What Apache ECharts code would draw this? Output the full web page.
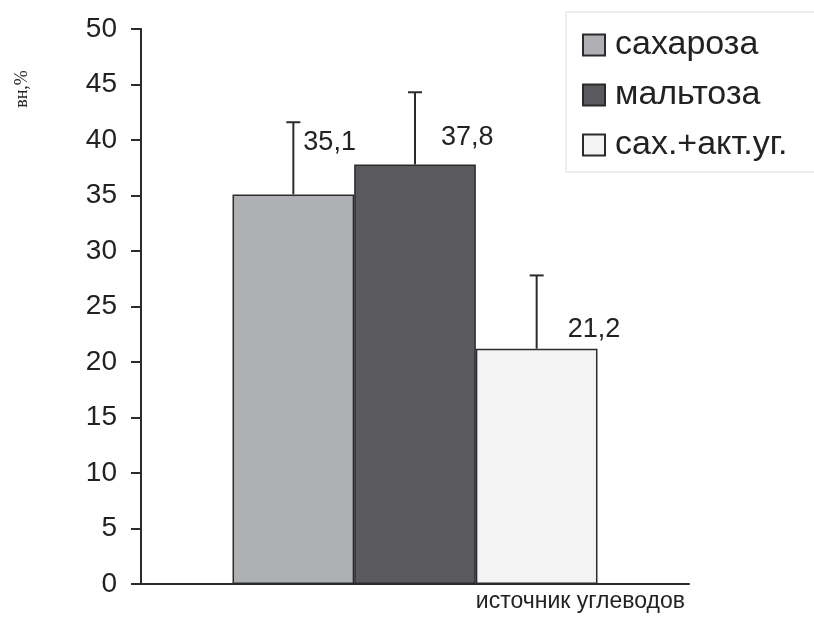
<!DOCTYPE html>
<html>
<head>
<meta charset="utf-8">
<script src="https://cdn.jsdelivr.net/npm/echarts@6/dist/echarts.min.js"></script>
<style>
  html, body { margin: 0; padding: 0; background: #fff; }
  #chart { width: 814px; height: 620px; }
</style>
</head>
<body>
<div id="chart"></div>
<script>
// Carbohydrate source vs. response, mean with upper error whisker
const seriesNames = ['сахароза', 'мальтоза', 'сах.+акт.уг.'];
const means = [35.1, 37.8, 21.2];
const errors = [6.5, 6.5, 6.6];
const yTicks = [0, 5, 10, 15, 20, 25, 30, 35, 40, 45, 50];
const xTitle = 'источник углеводов';
const yTitle = 'вн,%';

const fills = ['#aeb0b3', '#5a595e', '#f3f3f3'];
const edge = '#2b2b2b';
const font = 'Liberation Sans, Arial, sans-serif';
const gapPct = 33.4;
// value-label placement next to each whisker: [dx from bar centre, dy above bar top]
const labelPlace = [[10, 52], [26, 27], [31, 19]];

const chart = echarts.init(document.getElementById('chart'), null, { renderer: 'canvas' });

const barSeries = seriesNames.map((name, i) => ({
  name: name,
  type: 'bar',
  data: [means[i]],
  barGap: '0%',
  barCategoryGap: gapPct + '%',
  itemStyle: { color: fills[i], borderColor: edge, borderWidth: 1.5 },
  emphasis: { disabled: true },
  z: 2
}));

const whiskerSeries = seriesNames.map((name, i) => ({
  name: name,
  type: 'custom',
  data: [[0, means[i], errors[i]]],
  z: 3,
  silent: true,
  renderItem: function (params, api) {
    const band = api.size([1, 0])[0];
    const barW = band * (1 - gapPct / 100) / seriesNames.length;
    const shift = (i - (seriesNames.length - 1) / 2) * barW;
    const base = api.coord([api.value(0), api.value(1)]);
    const top = api.coord([api.value(0), api.value(1) + api.value(2)]);
    const cx = base[0] + shift;
    const lineStyle = { stroke: edge, lineWidth: 2 };
    return {
      type: 'group',
      children: [
        { type: 'line', shape: { x1: cx, y1: base[1], x2: cx, y2: top[1] }, style: lineStyle },
        { type: 'line', shape: { x1: cx - 7, y1: top[1], x2: cx + 7, y2: top[1] }, style: lineStyle },
        {
          type: 'text',
          x: cx + labelPlace[i][0],
          y: base[1] - labelPlace[i][1],
          style: {
            text: String(api.value(1)).replace('.', ','),
            fill: '#222',
            font: '27px ' + font,
            align: 'left',
            verticalAlign: 'middle'
          }
        }
      ]
    };
  }
}));

chart.setOption({
  animation: false,
  backgroundColor: '#fff',
  grid: { left: 141, right: 125, top: 29, bottom: 36, containLabel: false },
  legend: {
    orient: 'vertical',
    left: 566,
    top: 12,
    data: seriesNames,
    icon: 'rect',
    itemWidth: 22,
    itemHeight: 21,
    itemGap: 16,
    borderColor: '#dcdcdc',
    borderWidth: 1,
    padding: [16, 60, 10, 16],
    selectedMode: false,
    textStyle: { fontFamily: font, fontSize: 34, color: '#222', lineHeight: 34, padding: [0, 0, 0, 5] }
  },
  xAxis: {
    type: 'category',
    data: [xTitle],
    axisLine: { show: true, lineStyle: { color: edge, width: 2 } },
    axisTick: { show: false },
    axisLabel: { show: false }
  },
  yAxis: {
    type: 'value',
    min: yTicks[0],
    max: yTicks[yTicks.length - 1],
    interval: yTicks[1] - yTicks[0],
    splitLine: { show: false },
    axisLine: { show: true, lineStyle: { color: edge, width: 2 } },
    axisTick: { show: true, inside: false, length: 10, lineStyle: { color: edge, width: 2 } },
    axisLabel: { margin: 24, fontFamily: font, fontSize: 28, color: '#222' }
  },
  graphic: [
    {
      type: 'text',
      right: 129,
      top: 590,
      style: { text: xTitle, font: '23px ' + font, fill: '#222' }
    },
    {
      type: 'text',
      x: 22,
      y: 89,
      rotation: Math.PI / 2,
      style: { text: yTitle, font: '18px Liberation Serif, DejaVu Serif, serif', fill: '#222', align: 'center', verticalAlign: 'middle' }
    }
  ],
  series: barSeries.concat(whiskerSeries)
});
</script>
</body>
</html>
